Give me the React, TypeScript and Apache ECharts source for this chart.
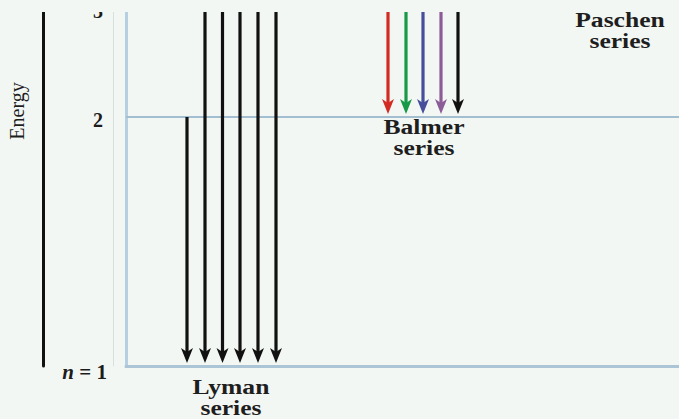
import React, { useEffect, useRef } from 'react';
import * as echarts from 'echarts';

// Energy levels (diagram units, not to scale)
const levelNames = ['n = 1', '2', '3', '4', '5', '6', '7'];
const levelValues = [0, 10, 14.38, 15.3, 15.9, 16.3, 16.6];
const shownLevels = [0, 1, 2];

// Lyman series: n -> 1
const lymanX = [61, 79, 96.5, 114, 132, 150];
const lymanFrom = [2, 3, 4, 5, 6, 7];
const lymanColors = ['#111111', '#111111', '#111111', '#111111', '#111111', '#111111'];

// Balmer series: n -> 2
const balmerX = [262, 280, 297, 315, 332];
const balmerFrom = [3, 4, 5, 6, 7];
const balmerColors = ['#d22b22', '#169a48', '#474f9c', '#8c5c98', '#111111'];

// Series labels
const seriesLabels = ['Lyman\nseries', 'Balmer\nseries', 'Paschen\nseries'];
const labelX = [105, 298, 494];
const labelY = [-1.3, 9.16, 13.45];

const X_MIN = 0;
const X_MAX = 553;
const Y_MAX = 14.7;
const BG = '#f3f7f3';
const SERIF = "'Times New Roman', 'Liberation Serif', serif";

export default function App() {
  const ref = useRef<HTMLDivElement>(null);
  useEffect(() => {
    if (!ref.current) return;
    const chart = echarts.init(ref.current, undefined, { renderer: 'svg' });

    const arrows: number[][] = [];
    const arrowColors: string[] = [];
    lymanX.forEach((x, i) => {
      arrows.push([x, levelValues[lymanFrom[i] - 1], levelValues[0]]);
      arrowColors.push(lymanColors[i]);
    });
    balmerX.forEach((x, i) => {
      arrows.push([x, levelValues[balmerFrom[i] - 1], levelValues[1]]);
      arrowColors.push(balmerColors[i]);
    });

    const labelData = seriesLabels.map((t, i) => [labelX[i], labelY[i], i]);

    const option: any = {
      animation: false,
      backgroundColor: BG,
      grid: { left: 126, right: 0, top: 0, bottom: 53 },
      xAxis: {
        type: 'value',
        min: X_MIN,
        max: X_MAX,
        axisLine: { show: true, lineStyle: { color: '#abc4d6', width: 3 } },
        axisTick: { show: false },
        axisLabel: { show: false },
        splitLine: { show: false },
      },
      yAxis: [
        {
          type: 'value',
          min: 0,
          max: Y_MAX,
          position: 'left',
          axisLine: { show: true, lineStyle: { color: '#b6cfe1', width: 3 } },
          axisTick: { show: false },
          splitLine: { show: false },
          axisLabel: {
            show: true,
            customValues: shownLevels.map((i) => levelValues[i]),
            margin: 19,
            formatter: (v: number) => {
              const idx = levelValues.findIndex((l) => Math.abs(l - v) < 1e-6);
              if (idx < 0) return '';
              if (idx === 0) return '{ni|n}{nr| = 1}';
              return '{d|' + levelNames[idx] + '}';
            },
            rich: {
              d: { fontFamily: SERIF, fontSize: 20, fontWeight: 'bold', color: '#1c1c1c', padding: [6, 4, 0, 0] },
              ni: { fontFamily: SERIF, fontSize: 21, fontStyle: 'italic', fontWeight: 'bold', color: '#1c1c1c', padding: [12, 0, 0, 0] },
              nr: { fontFamily: SERIF, fontSize: 21, fontWeight: 'bold', color: '#1c1c1c', padding: [12, 0, 0, 0] },
            },
          },
        },
        {
          type: 'value',
          min: 0,
          max: Y_MAX,
          position: 'left',
          offset: 83,
          axisLine: { show: true, lineStyle: { color: '#111111', width: 3 } },
          axisTick: { show: false },
          axisLabel: { show: false },
          splitLine: { show: false },
        },
        {
          type: 'value',
          min: 0,
          max: Y_MAX,
          position: 'left',
          offset: 13,
          axisLine: { show: true, lineStyle: { color: '#d9dfdb', width: 1 } },
          axisTick: { show: false },
          axisLabel: { show: false },
          splitLine: { show: false },
        },
      ],
      series: [
        {
          type: 'line',
          name: 'n = 2 level',
          data: [
            [X_MIN, levelValues[1]],
            [X_MAX, levelValues[1]],
          ],
          symbol: 'none',
          silent: true,
          lineStyle: { color: '#a3bed0', width: 2 },
          z: 1,
        },
        {
          type: 'custom',
          name: 'transitions',
          data: arrows,
          encode: { x: 0, y: [1, 2] },
          clip: true,
          renderItem: (params: any, api: any) => {
            const x = api.value(0);
            const top = api.coord([x, api.value(1)]);
            const tip = api.coord([x, api.value(2)]);
            const color = arrowColors[params.dataIndex];
            const px = tip[0];
            const tipY = tip[1] - 3;
            return {
              type: 'group',
              children: [
                {
                  type: 'line',
                  shape: { x1: px, y1: top[1], x2: px, y2: tipY - 10 },
                  style: { stroke: color, lineWidth: 3.2 },
                },
                {
                  type: 'polygon',
                  shape: {
                    points: [
                      [px - 6, tipY - 15],
                      [px, tipY - 11],
                      [px + 6, tipY - 15],
                      [px, tipY],
                    ],
                  },
                  style: { fill: color },
                },
              ],
            };
          },
          z: 3,
        },
        {
          type: 'custom',
          name: 'labels',
          data: labelData,
          encode: { x: 0, y: 1 },
          clip: false,
          silent: true,
          renderItem: (params: any, api: any) => {
            const p = api.coord([api.value(0), api.value(1)]);
            return {
              type: 'text',
              x: p[0],
              y: p[1],
              scaleX: 1.28,
              style: {
                text: seriesLabels[params.dataIndex],
                fontFamily: SERIF,
                fontSize: 20,
                fontWeight: 'bold',
                lineHeight: 21,
                fill: '#1e1e1e',
                align: 'center',
                verticalAlign: 'middle',
              },
            };
          },
          z: 4,
        },
      ],
      graphic: [
        {
          type: 'text',
          x: 17,
          y: 111,
          rotation: Math.PI / 2,
          style: {
            text: 'Energy',
            fontFamily: SERIF,
            fontSize: 20,
            fill: '#1e1e1e',
            align: 'center',
            verticalAlign: 'middle',
          },
        },
        {
          type: 'rect',
          z: 100,
          shape: { x: 0, y: 0, width: 679, height: 12 },
          style: { fill: BG },
        },
      ],
    };
    chart.setOption(option);
    return () => chart.dispose();
  }, []);
  return (
    <div
      ref={ref}
      style={{ position: 'fixed', left: 0, top: 0, width: 679, height: 419 }}
    />
  );
}
